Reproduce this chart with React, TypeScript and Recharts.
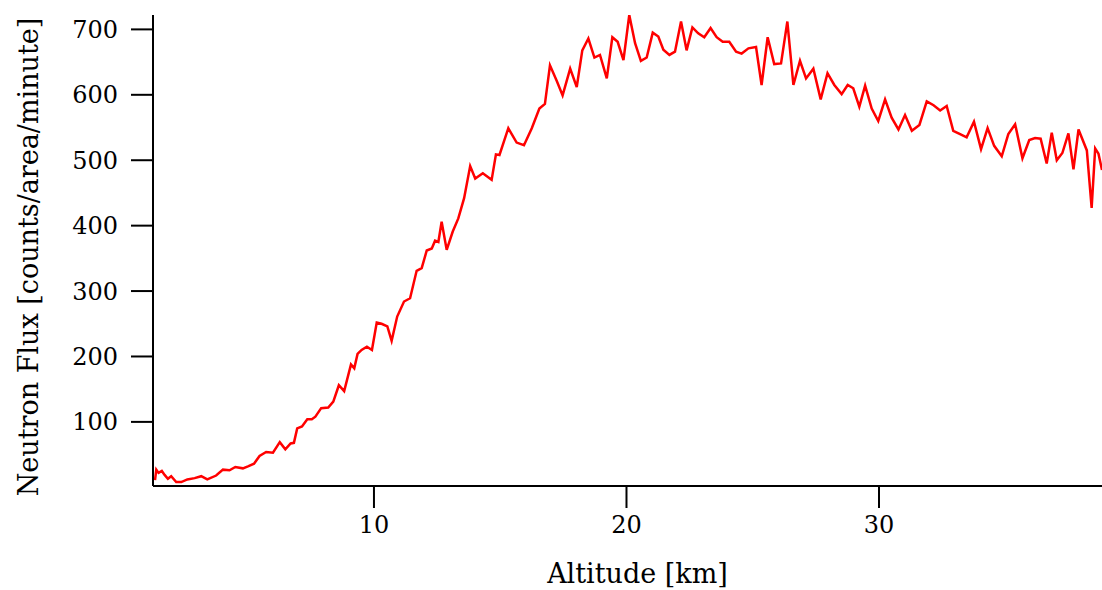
import React from "react";
import { LineChart, Line, XAxis, YAxis, Label } from "recharts";

const altitudeKm: number[] = [
  1.33, 1.38, 1.47, 1.6, 1.71, 1.84, 1.97, 2.17, 2.37, 2.61, 2.9, 3.16, 3.4, 3.75, 4.02, 4.28, 4.51, 4.81, 5.01, 5.25,
  5.47, 5.73, 6.0, 6.27, 6.49, 6.7, 6.83, 6.96, 7.15, 7.36, 7.54, 7.68, 7.91, 8.19, 8.39, 8.61, 8.82, 9.09, 9.22, 9.35,
  9.51, 9.72, 9.92, 10.11, 10.3, 10.53, 10.7, 10.92, 11.19, 11.43, 11.69, 11.89, 12.09, 12.29, 12.42, 12.55, 12.68, 12.88, 13.12, 13.34,
  13.57, 13.81, 14.01, 14.31, 14.66, 14.83, 14.97, 15.32, 15.65, 15.94, 16.25, 16.55, 16.77, 16.97, 17.24, 17.47, 17.77, 18.03, 18.25, 18.49,
  18.73, 18.95, 19.22, 19.44, 19.65, 19.88, 20.11, 20.34, 20.57, 20.8, 21.04, 21.26, 21.46, 21.7, 21.92, 22.16, 22.38, 22.61, 22.84, 23.08,
  23.33, 23.57, 23.81, 24.07, 24.34, 24.56, 24.83, 25.13, 25.35, 25.59, 25.85, 26.12, 26.37, 26.61, 26.87, 27.11, 27.4, 27.69, 27.96, 28.23,
  28.52, 28.76, 28.98, 29.22, 29.45, 29.71, 29.97, 30.24, 30.5, 30.77, 31.03, 31.3, 31.6, 31.89, 32.16, 32.42, 32.68, 32.94, 33.21, 33.47,
  33.76, 34.04, 34.3, 34.56, 34.86, 35.12, 35.39, 35.68, 35.95, 36.18, 36.4, 36.64, 36.84, 37.04, 37.26, 37.5, 37.7, 37.9, 38.23, 38.42,
  38.56, 38.69, 38.83,
];

const neutronFlux: number[] = [
  11, 27, 22, 25, 19, 13, 17, 8, 8, 12, 14, 17, 12, 18, 27, 26, 31, 29, 32, 36,
  48, 54, 53, 69, 58, 67, 68, 90, 93, 104, 104, 108, 121, 122, 131, 156, 147, 188, 182, 204,
  210, 215, 210, 252, 250, 246, 224, 261, 284, 289, 331, 335, 362, 365, 377, 375, 406, 363, 391, 411,
  442, 491, 472, 480, 470, 509, 508, 549, 527, 523, 549, 579, 586, 645, 621, 599, 640, 612, 668, 686,
  657, 661, 625, 688, 681, 653, 722, 679, 652, 657, 695, 689, 669, 661, 666, 712, 668, 703, 694, 688,
  702, 688, 681, 681, 666, 663, 671, 673, 615, 688, 647, 648, 712, 615, 652, 625, 640, 593, 633, 615,
  601, 615, 610, 582, 614, 579, 560, 593, 565, 547, 569, 545, 554, 590, 584, 576, 583, 545, 540, 535,
  559, 517, 549, 522, 506, 540, 555, 503, 531, 534, 533, 495, 542, 500, 511, 541, 486, 547, 515, 427,
  518, 510, 485,
];

const xTicks: number[] = [10, 20, 30];
const yTicks: number[] = [100, 200, 300, 400, 500, 600, 700];

const data = altitudeKm.map((alt, i) => ({ alt, flux: neutronFlux[i] }));

const FONT = "'DejaVu Serif', serif";

const XTitle = (props: any) => {
  const vb = props.viewBox || {};
  const cx = vb.x + vb.width / 2 + 10;
  return (
    <text x={cx} y={583} textAnchor="middle" fontFamily={FONT} fontSize={27} fill="#000">
      Altitude [km]
    </text>
  );
};

const YTitle = () => {
  const cy = 257;
  const cx = 28;
  return (
    <text
      x={cx}
      y={cy}
      transform={`rotate(-90, ${cx}, ${cy})`}
      textAnchor="middle"
      dominantBaseline="central"
      fontFamily={FONT}
      fontSize={27}
      fill="#000"
    >
      Neutron Flux [counts/area/minute]
    </text>
  );
};

export default function App() {
  return (
    <div style={{ position: "absolute", left: 0, top: 0, width: 1102, height: 590, background: "#fff" }}>
      <LineChart width={1102} height={590} data={data} margin={{ top: 15, right: 0, bottom: 0, left: 0 }}>
        <XAxis
          dataKey="alt"
          type="number"
          domain={[1.25, 38.83]}
          allowDataOverflow
          ticks={xTicks}
          height={104}
          tickSize={22}
          tickMargin={8}
          axisLine={{ stroke: "#000", strokeWidth: 2 }}
          tickLine={{ stroke: "#000", strokeWidth: 2 }}
          tick={{ fill: "#000", fontFamily: FONT, fontSize: 24 }}
        >
          <Label content={<XTitle />} />
        </XAxis>
        <YAxis
          type="number"
          domain={[2, 722]}
          allowDataOverflow
          ticks={yTicks}
          width={153}
          tickSize={22}
          tickMargin={13}
          axisLine={{ stroke: "#000", strokeWidth: 2 }}
          tickLine={{ stroke: "#000", strokeWidth: 2 }}
          tick={{ fill: "#000", fontFamily: FONT, fontSize: 24 }}
        >
          <Label content={<YTitle />} />
        </YAxis>
        <Line
          type="linear"
          dataKey="flux"
          stroke="#ff0000"
          strokeWidth={2.5}
          dot={false}
          isAnimationActive={false}
        />
      </LineChart>
    </div>
  );
}
